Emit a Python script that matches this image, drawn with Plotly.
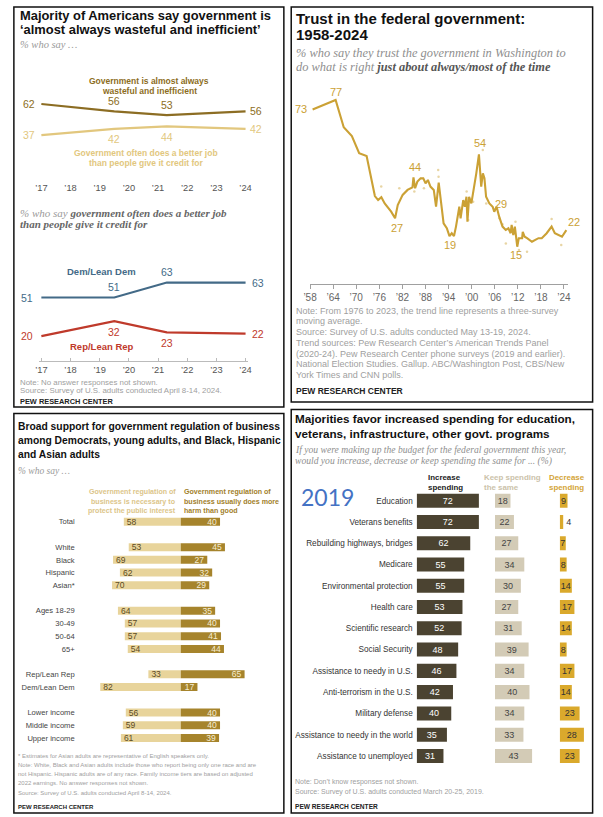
import plotly.graph_objects as go

W, H = 603, 817
SANS = "Liberation Sans"
SERIF = "Liberation Serif"

# ---------------- DATA ----------------
# Panel 1: government wasteful / better job
p1_years = [2017, 2019.5, 2021.3, 2024]
wasteful = [62, 56, 53, 56]
better_job = [37, 42, 44, 42]
dem_better = [51, 51, 63, 63]
rep_better = [20, 32, 23, 22]
p1_ticks = [2017, 2018, 2019, 2020, 2021, 2022, 2023, 2024]
p1_ticktext = ["’17", "’18", "’19", "’20", "’21", "’22", "’23", "’24"]

# Panel 2: trust in federal government (three-survey moving average)
trust_years = [1958.66, 1964.64, 1966.75, 1968.87, 1970.76, 1972.70, 1974.85, 1975.69, 1976.53, 1977.40,
               1979.08, 1980.10, 1980.79, 1982.07, 1983.34, 1984.62, 1984.88, 1985.31, 1985.90, 1986.74,
               1987.43, 1988.02, 1988.63, 1989.29, 1990.16, 1990.75, 1991.44, 1992.02, 1992.71, 1993.55,
               1994.24, 1994.83, 1995.42, 1995.93, 1996.29, 1996.80, 1997.13, 1997.82, 1998.23, 1998.66,
               1998.91, 1999.35, 1999.93, 2000.37, 2000.78, 2001.21, 2001.90, 2002.23, 2002.49, 2002.92,
               2003.33, 2003.76, 2004.61, 2005.47, 2005.88, 2006.49, 2007.16, 2008.03, 2008.87, 2009.56,
               2010.14, 2010.40, 2010.83, 2011.24, 2011.60, 2011.86, 2012.26, 2013.13, 2013.29, 2013.79,
               2014.41, 2015.68, 2017.37, 2018.23, 2019.51, 2020.79, 2021.63, 2023.49, 2024.62]
trust_values = [73, 77, 65.5, 61.8, 54.5, 53.3, 36.4, 34.7, 35.9, 33.3,
                29.8, 27, 32.6, 36.9, 39.0, 40.1, 44.3, 39.7, 42.5, 43.9,
                43.9, 41.8, 43.2, 40.4, 39.0, 31.9, 42.1, 33.3, 24.9, 22.8,
                19.5, 20.7, 19.5, 23.5, 27.7, 31.9, 27.0, 34.7, 31.9, 36.1,
                25.6, 36.1, 33.3, 37.6, 40.4, 46.0, 54, 47.4, 40.4, 46.0,
                43.9, 36.1, 33.3, 31.9, 29.8, 31.9, 27.7, 23.5, 22.1, 22.8,
                20.7, 24.2, 19.9, 23.5, 18.6, 15, 18.6, 18.6, 21.3, 19.2,
                18.6, 17.1, 18.6, 18.6, 20.7, 23.5, 20.7, 19.2, 22]
survey_years = [1976.5, 1981.2, 1985.1, 1987.6, 1991.3, 1991.4, 1996.9, 1998.7, 1999.1, 2000.4,
                2002.9, 2003.8, 2007.2, 2008.0, 2008.9, 2011.4, 2012.3, 2014.4, 2020.8, 2023.3]
survey_values = [40.4, 39.7, 38.3, 39.7, 47.4, 44.6, 29.1, 38.3, 26.3, 34.0,
                 55.9, 33.3, 27.0, 24.5, 16.4, 25.6, 13.6, 12.9, 26.7, 15.7]
trust_label_years = [1958.66, 1964.64, 1980.10, 1984.88, 1994.24, 2001.90, 2006.49, 2011.86, 2024.62]
trust_label_values = [73, 77, 27, 44, 19, 54, 29, 15, 22]
trust_ticks = list(range(1958, 2025, 6))
trust_ticktext = ["’58", "’64", "’70", "’76", "’82", "’88", "’94", "’00", "’06", "’12", "’18", "’24"]

# Panel 3: regulation of business
reg_groups = ["Total", "White", "Black", "Hispanic", "Asian*", "Ages 18-29", "30-49", "50-64", "65+",
              "Rep/Lean Rep", "Dem/Lean Dem", "Lower income", "Middle income", "Upper income"]
reg_block = [0, 1, 1, 1, 1, 2, 2, 2, 2, 3, 3, 4, 4, 4]
reg_necessary = [58, 53, 69, 62, 70, 64, 57, 57, 54, 33, 82, 56, 59, 61]
reg_harm = [40, 45, 27, 32, 29, 35, 40, 41, 44, 65, 17, 40, 40, 39]

# Panel 4: federal spending 2019
spend_items = ["Education", "Veterans benefits", "Rebuilding highways, bridges", "Medicare",
               "Environmental protection", "Health care", "Scientific research", "Social Security",
               "Assistance to needy in U.S.", "Anti-terrorism in the U.S.", "Military defense",
               "Assistance to needy in the world", "Assistance to unemployed"]
spend_increase = [72, 72, 62, 55, 55, 53, 52, 48, 46, 42, 40, 35, 31]
spend_keep = [18, 22, 27, 34, 30, 27, 31, 39, 34, 40, 34, 33, 43]
spend_decrease = [9, 4, 7, 8, 14, 17, 14, 8, 17, 14, 23, 28, 23]

# ---------------- STYLE ----------------
DARK_GOLD = "#8C6D23"
LIGHT_GOLD = "#E2C77E"
DEM_BLUE = "#436A87"
REP_RED = "#BF3A2B"
TRUST_GOLD = "#CBA135"
NOTE_GRAY = "#A0A0A0"
REG_LIGHT = "#E8D49B"
REG_DARK = "#A6842C"
SP_INC = "#4B4331"
SP_KEEP = "#D3CBB6"
SP_DEC = "#DAA92C"

ann = []
shapes = []


def T(s, x, y, size, color="#222", family=SANS, xa="left"):
    ann.append(dict(text=s, x=x / W, y=1 - y / H, xref="paper", yref="paper",
                    xanchor=xa, yanchor="middle", showarrow=False, borderpad=0,
                    font=dict(size=size, color=color, family=family)))


def lin(p0, v0, s, lo, hi, vertical=False):
    """value(p) = v0 + (p - p0) * s; returns domain, range"""
    r = [v0 + (lo - p0) * s, v0 + (hi - p0) * s]
    if vertical:
        d = [1 - lo / H, 1 - hi / H]
    else:
        d = [lo / W, hi / W]
    return d, r


hidden = dict(showgrid=False, zeroline=False, showline=False, ticks="", showticklabels=False,
              fixedrange=True)

fig = go.Figure()

# ---------------- PANEL 1 ----------------
x1d, x1r = lin(35, 2017, 7 / 208, 33, 245)
y1d, y1r = lin(181, 0, -1 / 1.242, 181, 92, True)
y2d, y2r = lin(361, 0, -1 / 1.245, 361, 268, True)

for ys, col, ax in [(wasteful, DARK_GOLD, "y"), (better_job, LIGHT_GOLD, "y"),
                    (dem_better, DEM_BLUE, "y2"), (rep_better, REP_RED, "y2")]:
    fig.add_trace(go.Scatter(x=p1_years, y=ys, mode="lines", line=dict(color=col, width=2.2),
                             xaxis="x" if ax == "y" else "x2", yaxis=ax, hoverinfo="skip"))


def point_labels(xs, ys, xref, yref, color, side, size=10.5, left=12, right=10):
    n = len(xs)
    for i, (xv, yv) in enumerate(zip(xs, ys)):
        if i == 0:
            dx, dy = -left, 0
        elif i == n - 1:
            dx, dy = right, 0
        else:
            dx, dy = 0, (10.5 if side == "above" else -10.5)
        ann.append(dict(text=str(yv), x=xv, y=yv, xref=xref, yref=yref, xshift=dx, yshift=dy,
                        showarrow=False, font=dict(size=size, color=color, family=SANS)))


point_labels(p1_years, wasteful, "x", "y", DARK_GOLD, "above")
point_labels(p1_years, better_job, "x", "y", LIGHT_GOLD, "below")
point_labels(p1_years, dem_better, "x2", "y2", DEM_BLUE, "above", left=14, right=12)
point_labels(p1_years, rep_better, "x2", "y2", REP_RED, "below", left=14, right=12)

T("<b>Majority of Americans say government is</b>", 12, 16, 12.9, "#111")
T("<b>‘almost always wasteful and inefficient’</b>", 12, 29.5, 12.9, "#111")
T("<i>% who say …</i>", 12, 44, 10.5, "#9A9A9A", SERIF)
T("<b>Government is almost always</b>", 145, 81.5, 8.5, DARK_GOLD, xa="center")
T("<b>wasteful and inefficient</b>", 145, 91, 8.5, DARK_GOLD, xa="center")
T("<b>Government often does a better job</b>", 142, 153.5, 8.5, LIGHT_GOLD, xa="center")
T("<b>than people give it credit for</b>", 142, 163, 8.5, LIGHT_GOLD, xa="center")
T("<i>% who say <span style='color:#666'><b>government often does a better job</b></span></i>",
  12, 213, 11, "#9A9A9A", SERIF)
T("<i><span style='color:#666'><b>than people give it credit for</b></span></i>", 12, 224.5, 11,
  "#9A9A9A", SERIF)
T("<b>Dem/Lean Dem</b>", 96, 271, 9.5, DEM_BLUE, xa="center")
T("<b>Rep/Lean Rep</b>", 96.5, 346.5, 9.5, REP_RED, xa="center")
T("Note: No answer responses not shown.", 12, 382, 7.9, NOTE_GRAY)
T("Source: Survey of U.S. adults conducted April 8-14, 2024.", 12, 390.5, 7.9, NOTE_GRAY)
T("<b>PEW RESEARCH CENTER</b>", 12, 401, 7.4, "#222")

# ---------------- PANEL 2 ----------------
x3d, x3r = lin(308.7, 1958, 66 / 258.6, 308.7, 571)
y3d, y3r = lin(282.2, 0, -1 / 2.366, 284, 85, True)

fig.add_trace(go.Scatter(x=survey_years, y=survey_values, mode="markers",
                         marker=dict(color=TRUST_GOLD, size=2.5, opacity=0.45),
                         xaxis="x3", yaxis="y3", hoverinfo="skip"))
fig.add_trace(go.Scatter(x=trust_years, y=trust_values, mode="lines",
                         line=dict(color=TRUST_GOLD, width=2.1), xaxis="x3", yaxis="y3",
                         hoverinfo="skip"))
trust_shifts = [(-12, 0), (0, 8.5), (1.5, -10), (1.5, 11), (1, -8), (1, 11.5), (4, 10), (-1, -8.5),
                (8, 8.5)]
for xv, yv, (dx, dy) in zip(trust_label_years, trust_label_values, trust_shifts):
    ann.append(dict(text=str(yv), x=xv, y=yv, xref="x3", yref="y3", xshift=dx, yshift=dy,
                    showarrow=False, font=dict(size=11, color=TRUST_GOLD, family=SANS)))

T("<b>Trust in the federal government:</b>", 293.5, 18.5, 15, "#111")
T("<b>1958-2024</b>", 293.5, 34.5, 15, "#111")
T("<i>% who say they trust the government in Washington to</i>", 293.5, 53, 12.4, "#8F8F8F", SERIF)
T("<i>do what is right <span style='color:#555'><b>just about always/most of the time</b></span></i>",
  293.5, 66.5, 12.4, "#8F8F8F", SERIF)
notes2 = ["Note: From 1976 to 2023, the trend line represents a three-survey",
          "moving average.",
          "Source: Survey of U.S. adults conducted May 13-19, 2024.",
          "Trend sources: Pew Research Center’s American Trends Panel",
          "(2020-24). Pew Research Center phone surveys (2019 and earlier).",
          "National Election Studies. Gallup. ABC/Washington Post, CBS/New",
          "York Times and CNN polls."]
for i, s in enumerate(notes2):
    T(s, 293, 310.7 + i * 10.7, 9, NOTE_GRAY)
T("<b>PEW RESEARCH CENTER</b>", 293, 391, 8.5, "#222")

# ---------------- PANEL 3 ----------------
reg_pos = []
p = 0
for i, b in enumerate(reg_block):
    if i > 0:
        p += 2 if b != reg_block[i - 1] else 1
    reg_pos.append(p)

x4d, x4r = lin(177, 0, 1.0, 72, 280)
y4d, y4r = lin(521.7, 0, 1 / 12.72, 745, 514, True)

fig.add_trace(go.Bar(y=reg_pos, x=[-v for v in reg_necessary], text=[str(v) for v in reg_necessary],
                     orientation="h", width=0.63, marker=dict(color=REG_LIGHT, line=dict(width=0)),
                     textposition="inside", insidetextanchor="end", textangle=0,
                     textfont=dict(size=8.5, color="#5C4B1F", family=SANS),
                     xaxis="x4", yaxis="y4", hoverinfo="skip"))
fig.add_trace(go.Bar(y=reg_pos, x=reg_harm, text=[str(v) for v in reg_harm],
                     orientation="h", width=0.63, marker=dict(color=REG_DARK, line=dict(width=0)),
                     textposition="inside", insidetextanchor="end", textangle=0,
                     textfont=dict(size=8.5, color="#F6EDD3", family=SANS),
                     xaxis="x4", yaxis="y4", hoverinfo="skip"))

T("<b>Broad support for government regulation of business</b>", 10, 426.7, 10.3, "#111")
T("<b>among Democrats, young adults, and Black, Hispanic</b>", 10, 440.5, 10.3, "#111")
T("<b>and Asian adults</b>", 10, 454.3, 10.3, "#111")
T("<i>% who say …</i>", 10, 471, 9.5, "#9A9A9A", SERIF)
for i, s in enumerate(["Government regulation of", "business is necessary to",
                       "protect the public interest"]):
    T("<b>" + s + "</b>", 173.5, 491.7 + i * 9.8, 7.1, "#DCC589", xa="right")
for i, s in enumerate(["Government regulation of", "business usually does more", "harm than good"]):
    T("<b>" + s + "</b>", 179.3, 491.7 + i * 9.8, 7.1, "#A1802A")
notes3 = ["* Estimates for Asian adults are representative of English speakers only.",
          "Note: White, Black and Asian adults include those who report being only one race and are",
          "not Hispanic. Hispanic adults are of any race. Family income tiers are based on adjusted",
          "2022 earnings. No answer responses not shown.",
          "Source: Survey of U.S. adults conducted April 8-14, 2024."]
for i, s in enumerate(notes3):
    T(s, 10, 755.7 + i * 9.25, 6, NOTE_GRAY)
T("<b>PEW RESEARCH CENTER</b>", 10, 806.7, 6, "#222")

# ---------------- PANEL 4 ----------------
sp_pos = list(range(len(spend_items)))
x5d, x5r = lin(417.3, 0, 1 / 0.88, 417.3, 492)
x6d, x6r = lin(497, 0, 1 / 0.88, 497, 558)
x7d, x7r = lin(563, 0, 1 / 0.88, 563, 595)
y5d, y5r = lin(500.7, 0, 1 / 21.27, 768, 489, True)

for vals, col, tcol, xa, ya in [(spend_increase, SP_INC, "#FFFFFF", "x5", "y5"),
                                (spend_keep, SP_KEEP, "#444444", "x6", "y6"),
                                (spend_decrease, SP_DEC, "#333333", "x7", "y7")]:
    fig.add_trace(go.Bar(y=sp_pos, x=vals, text=[str(v) for v in vals], orientation="h",
                         width=0.66, marker=dict(color=col, line=dict(width=0)),
                         textposition=["inside" if v >= 5 else "outside" for v in vals],
                         insidetextanchor="middle", textangle=0, cliponaxis=False,
                         textfont=dict(size=9, color=tcol, family=SANS),
                         xaxis=xa, yaxis=ya, hoverinfo="skip"))

T("<b>Majorities favor increased spending for education,</b>", 292, 418, 11.7, "#111")
T("<b>veterans, infrastructure, other govt. programs</b>", 292, 433, 11.7, "#111")
T("<i>If you were making up the budget for the federal government this year,</i>", 292, 450, 9.6,
  "#8F8F8F", SERIF)
T("<i>would you increase, decrease or keep spending the same for ... (%)</i>", 292, 461.3, 9.6,
  "#8F8F8F", SERIF)
T("<b>Increase</b>", 427.3, 477.3, 7.9, "#222")
T("<b>spending</b>", 427.3, 487.7, 7.9, "#222")
T("<b>Keep spending</b>", 485.3, 477.3, 7.9, "#CBC2AA")
T("<b>the same</b>", 485.3, 487.7, 7.9, "#CBC2AA")
T("<b>Decrease</b>", 551.3, 477.3, 7.9, "#D4A437")
T("<b>spending</b>", 551.3, 487.7, 7.9, "#D4A437")
T("2019", 326, 496.7, 23, "#4472C4", "Lato", xa="center")
T("Note: Don’t know responses not shown.", 292, 782.3, 7, NOTE_GRAY)
T("Source: Survey of U.S. adults conducted March 20-25, 2019.", 292, 792.3, 7, NOTE_GRAY)
T("<b>PEW RESEARCH CENTER</b>", 292, 806.7, 6.6, "#222")

# ---------------- BORDERS ----------------
for (a, b, c, d) in [(7, 7, 282, 407), (289.5, 7, 596.5, 402), (7, 413.5, 282, 813),
                     (289.5, 409.5, 596.5, 813)]:
    shapes.append(dict(type="rect", xref="paper", yref="paper", x0=a / W, x1=c / W,
                       y0=1 - b / H, y1=1 - d / H, line=dict(color="#111", width=1.5)))

fig.update_layout(
    width=W, height=H, margin=dict(l=0, r=0, t=0, b=0), autosize=False,
    paper_bgcolor="white", plot_bgcolor="rgba(0,0,0,0)", showlegend=False,
    barmode="overlay", uniformtext=dict(mode="show", minsize=8.5),
    font=dict(family=SANS),
    annotations=ann, shapes=shapes,
    xaxis=dict(hidden, domain=x1d, range=x1r, anchor="y", showticklabels=True,
               tickvals=p1_ticks, ticktext=p1_ticktext, tickfont=dict(size=9.3, color="#555")),
    yaxis=dict(hidden, domain=y1d, range=y1r, anchor="x"),
    xaxis2=dict(hidden, domain=x1d, range=x1r, anchor="y2", showticklabels=True,
                tickvals=p1_ticks, ticktext=p1_ticktext, tickfont=dict(size=9.3, color="#555"),
                showline=True, linecolor="#BBBBBB", ticks="inside", ticklen=3,
                tickcolor="#BBBBBB", ticklabelstandoff=0),
    yaxis2=dict(hidden, domain=y2d, range=y2r, anchor="x2"),
    xaxis3=dict(hidden, domain=x3d, range=x3r, anchor="y3", showticklabels=True,
                tickvals=trust_ticks, ticktext=trust_ticktext,
                tickfont=dict(size=10, color="#666"), showline=True, linecolor="#A0A0A0",
                ticks="outside", ticklen=4, tickcolor="#A0A0A0"),
    yaxis3=dict(hidden, domain=y3d, range=y3r, anchor="x3"),
    xaxis4=dict(hidden, domain=x4d, range=x4r, anchor="y4"),
    yaxis4=dict(hidden, domain=y4d, range=y4r, anchor="x4", showticklabels=True,
                tickvals=reg_pos, ticktext=reg_groups, ticklabelstandoff=2,
                tickfont=dict(size=7.6, color="#444", family=SANS)),
    xaxis5=dict(hidden, domain=x5d, range=x5r, anchor="y5"),
    xaxis6=dict(hidden, domain=x6d, range=x6r, anchor="y6"),
    xaxis7=dict(hidden, domain=x7d, range=x7r, anchor="y7"),
    yaxis5=dict(hidden, domain=y5d, range=y5r, anchor="x5", showticklabels=True,
                tickvals=sp_pos, ticktext=spend_items, ticklabelstandoff=3,
                tickfont=dict(size=8.2, color="#333", family=SANS)),
    yaxis6=dict(hidden, domain=y5d, range=y5r, anchor="x6"),
    yaxis7=dict(hidden, domain=y5d, range=y5r, anchor="x7"),
)

fig.write_html(
    "out.html",
    config={"displayModeBar": False, "responsive": False},
    post_script=(
        "document.documentElement.style.margin='0';document.documentElement.style.overflow='hidden';"
        "document.body.style.margin='0';document.body.style.padding='0';"
        "document.body.style.overflow='hidden';"
        "var gd=document.getElementById('{plot_id}');gd.style.position='absolute';"
        "gd.style.left='0px';gd.style.top='0px';"
    ),
)
